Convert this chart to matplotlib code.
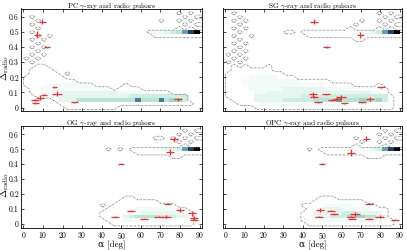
import numpy as np
import matplotlib
matplotlib.use("Agg")
import matplotlib.pyplot as plt
from matplotlib.colors import ListedColormap, BoundaryNorm

plt.rcParams["font.family"] = "serif"
plt.rcParams["font.serif"] = ["cmr10", "DejaVu Serif"]
plt.rcParams["mathtext.fontset"] = "cm"
plt.rcParams["axes.formatter.use_mathtext"] = True

# --- grid: 30 alpha bins (3 deg), 26 Delta rows (0.025) ---
# blocks: (col_from, col_to, row_from, row_to) inside the dash-dot contour
# dots: single cells inside the contour, heat: row -> (first col, intensities)
pc_blocks = [(0, 0, 6, 8), (1, 1, 4, 10), (2, 3, 3, 11), (4, 4, 3, 10), (5, 5, 2, 9),
             (6, 6, 1, 8), (7, 8, 0, 7), (9, 11, 0, 6), (12, 14, 0, 5), (15, 15, 0, 4),
             (16, 16, 1, 5), (17, 17, 1, 6), (18, 19, 1, 5), (20, 24, 1, 4), (25, 26, 1, 3),
             (27, 27, 1, 2), (28, 28, 1, 1), (21, 21, 20, 20), (22, 29, 19, 20)]
pc_dots = [(7, 9), (1, 24), (2, 23), (1, 22), (2, 21), (1, 20), (2, 19), (4, 19), (1, 18),
           (3, 18), (2, 17), (1, 16), (3, 16), (2, 15), (1, 14), (3, 14), (0, 13), (2, 13),
           (1, 12), (26, 21), (28, 21), (27, 22), (29, 22), (23, 23), (26, 23), (28, 23),
           (27, 24), (29, 24), (26, 25), (28, 25)]
pc_heat = {20: (21, "111234689"),
           6: (4, "1111111"),
           5: (3, "11111111111"),
           4: (3, "111" "2222222222" "11111"),
           3: (4, "11" "222222222222" "3333333333"),
           2: (6, "222" "4444444444" "7" "444" "7" "4" "55" "3")}

sg_blocks = [(0, 0, 3, 9), (1, 1, 2, 10), (2, 4, 1, 10), (5, 6, 0, 10), (7, 7, 0, 11),
             (8, 9, 0, 9), (10, 11, 0, 8), (12, 17, 0, 7), (18, 21, 0, 6), (22, 25, 0, 5),
             (26, 26, 0, 6), (27, 27, 0, 5), (28, 28, 0, 3), (10, 11, 20, 20),
             (13, 13, 20, 20), (14, 21, 19, 20), (22, 23, 18, 20), (24, 29, 19, 20),
             (21, 21, 21, 21)]
sg_dots = [(1, 25), (2, 24), (1, 23), (3, 23), (2, 22), (1, 21), (3, 21), (2, 20), (1, 19),
           (4, 19), (2, 18), (1, 17), (3, 17), (2, 16), (1, 15), (3, 15), (0, 14), (2, 14),
           (1, 13), (3, 13), (0, 12), (2, 12), (1, 11), (3, 11), (22, 22), (23, 23),
           (26, 21), (28, 21), (27, 22), (29, 22), (26, 23), (28, 23), (27, 24), (29, 24),
           (26, 25), (28, 25)]
sg_heat = {20: (22, "11123689"),
           8: (4, "11111"),
           7: (3, "1111111111"),
           6: (3, "11111111111111"),
           5: (4, "111111" "2222222" "111111"),
           4: (5, "11" "222222222222222222" "11"),
           3: (5, "22222222" "333333333333333"),
           2: (5, "22222" "33333" "4444" "6" "444" "55" "4" "5" "3"),
           1: (6, "111111111111111")}

og_blocks = [(13, 13, 2, 3), (14, 14, 1, 4), (15, 15, 0, 5), (16, 16, 0, 6), (17, 18, 0, 7),
             (19, 22, 0, 6), (23, 25, 0, 5), (26, 27, 0, 4), (28, 28, 0, 3),
             (18, 18, 20, 20), (19, 24, 19, 20), (25, 26, 18, 20), (27, 29, 19, 20),
             (22, 23, 23, 23)]
og_dots = [(13, 5), (14, 20), (16, 20), (27, 21), (26, 22), (28, 22), (25, 23), (27, 23),
           (29, 23), (26, 24), (28, 24), (27, 25), (29, 25)]
og_heat = {20: (22, "11223689"),
           4: (19, "11111111"),
           3: (18, "1122222211"),
           2: (17, "23444433322"),
           1: (17, "111111111")}

opc_blocks = [(13, 13, 1, 3), (14, 14, 0, 5), (15, 15, 0, 6), (16, 18, 0, 7), (19, 23, 0, 6),
              (24, 25, 0, 5), (26, 27, 0, 4), (28, 28, 0, 1), (16, 16, 20, 20),
              (17, 23, 19, 20), (24, 26, 18, 20), (27, 29, 19, 20), (22, 22, 21, 21)]
opc_dots = [(13, 5), (14, 20), (23, 22), (22, 23), (27, 21), (26, 22), (28, 22), (27, 23),
            (29, 23), (26, 24), (28, 24), (27, 25), (29, 25)]
opc_heat = {20: (21, "111123689"),
            5: (17, "11111"),
            4: (16, "122211111"),
            3: (15, "222223332222"),
            2: (15, "2223335554422"),
            1: (16, "11111111111")}

# --- observed pulsars: alpha [deg], alpha error, Delta_radio, Delta error ---
pc_alpha = [9.7, 7.2, 12.0, 15.9, 17.1, 8.5, 10.7, 5.8, 6.0, 26.1, 78.9]
pc_alpha_err = [1.9, 2.0, 1.7, 1.5, 2.5, 2.0, 1.5, 2.0, 1.8, 2.0, 2.0]
pc_delta = [0.569, 0.482, 0.399, 0.133, 0.092, 0.065, 0.085, 0.050, 0.029, 0.035, 0.055]
pc_delta_err = [0.017, 0.022, 0.004, 0.004, 0.015, 0.015, 0.004, 0.004, 0.004, 0.004, 0.010]

sg_alpha = [45.9, 69.7, 52.3, 80.5, 45.3, 45.9, 51.8, 47.9, 54.9, 57.8, 59.8, 61.5, 70.6, 74.5]
sg_alpha_err = [2.0, 2.0, 1.7, 2.0, 2.0, 2.0, 2.0, 2.0, 2.0, 2.0, 2.5, 2.0, 2.0, 2.0]
sg_delta = [0.569, 0.480, 0.401, 0.135, 0.087, 0.070, 0.087, 0.035, 0.050, 0.055, 0.070,
            0.029, 0.035, 0.055]
sg_delta_err = [0.017, 0.022, 0.004, 0.004, 0.015, 0.004, 0.004, 0.004, 0.004, 0.004, 0.015,
                0.004, 0.004, 0.012]

og_alpha = [76.7, 75.0, 49.8, 73.6, 55.1, 80.1, 86.2, 47.0, 69.5, 72.8, 61.4, 87.3, 87.0]
og_alpha_err = [2.0, 2.0, 1.7, 2.0, 2.0, 2.0, 2.0, 2.0, 3.0, 2.5, 2.0, 2.0, 2.0]
og_delta = [0.567, 0.482, 0.403, 0.137, 0.089, 0.095, 0.072, 0.050, 0.050, 0.050, 0.035,
            0.040, 0.030]
og_delta_err = [0.017, 0.022, 0.004, 0.004, 0.004, 0.015, 0.015, 0.004, 0.004, 0.012, 0.004,
                0.012, 0.004]

opc_alpha = [72.8, 64.8, 49.9, 74.0, 48.8, 54.7, 55.9, 66.8, 48.4, 64.9, 65.4, 74.3, 79.6, 87.6]
opc_alpha_err = [2.0, 2.0, 1.7, 2.0, 2.0, 2.0, 2.0, 2.5, 2.0, 2.0, 2.0, 2.0, 2.5, 2.0]
opc_delta = [0.570, 0.478, 0.403, 0.137, 0.095, 0.089, 0.067, 0.067, 0.050, 0.050, 0.035,
             0.035, 0.050, 0.028]
opc_delta_err = [0.017, 0.022, 0.004, 0.004, 0.015, 0.004, 0.004, 0.015, 0.004, 0.004, 0.004,
                 0.004, 0.012, 0.004]

titles = ["PC", "SG", "OG", "OPC"]
x_ticks = [0, 10, 20, 30, 40, 50, 60, 70, 80, 90]
y_ticks = [0, 0.1, 0.2, 0.3, 0.4, 0.5, 0.6]
y_tick_labels = ["0", "0.1", "0.2", "0.3", "0.4", "0.5", "0.6"]

heat_colors = ["#f3fbf8", "#e4f6ef", "#cfeee3", "#b6e5d5", "#9cd9c5",
               "#64a0b0", "#4a7a96", "#283c66", "#000000"]
cmap = ListedColormap(heat_colors)
norm = BoundaryNorm(np.arange(0.5, 10.5, 1.0), cmap.N)

n_col, n_row = 30, 26
x_edges = 3.0 * np.arange(n_col + 1)
y_edges = 0.025 * np.arange(n_row + 1) - 0.0125


def build(blocks, dots, heat):
    grid = np.zeros((n_row, n_col))
    mask = np.zeros((n_row, n_col))
    for ca, cb, ra, rb in blocks:
        mask[ra:rb + 1, ca:cb + 1] = 1
    for c, r in dots:
        mask[r, c] = 1
    for r, (c0, vals) in heat.items():
        for i, ch in enumerate(vals):
            grid[r, c0 + i] = int(ch)
    mask[grid > 0] = 1
    return grid, mask


panels = [
    (pc_blocks, pc_dots, pc_heat, pc_alpha, pc_alpha_err, pc_delta, pc_delta_err),
    (sg_blocks, sg_dots, sg_heat, sg_alpha, sg_alpha_err, sg_delta, sg_delta_err),
    (og_blocks, og_dots, og_heat, og_alpha, og_alpha_err, og_delta, og_delta_err),
    (opc_blocks, opc_dots, opc_heat, opc_alpha, opc_alpha_err, opc_delta, opc_delta_err),
]
positions = [[0.0516, 0.556, 0.4447, 0.41], [0.548, 0.556, 0.4398, 0.41],
             [0.0516, 0.09, 0.4447, 0.406], [0.548, 0.09, 0.4398, 0.406]]

fig = plt.figure(figsize=(4.07, 2.5), dpi=100)

for k, (blocks, dots, heat, a, ae, d, de) in enumerate(panels):
    ax = fig.add_axes(positions[k])
    grid, mask = build(blocks, dots, heat)
    ax.pcolormesh(x_edges, y_edges, np.ma.masked_where(grid == 0, grid),
                  cmap=cmap, norm=norm, shading="flat")

    # pad so the contour closes past the frame on the right and at the bottom
    m = np.hstack([mask, mask[:, -1:]])
    m = np.pad(m, 1)
    xs = 1.5 + 3.0 * np.arange(-1, n_col + 2)
    ys = 0.025 * np.arange(-1, n_row + 1)
    ax.contour(xs, ys, m, levels=[0.5], colors="#707070", linewidths=0.5,
               linestyles=[(0, (2.5, 1.2, 0.8, 1.2))])

    ax.errorbar(a, d, xerr=ae, yerr=de, fmt="none", ecolor="#ff2a2a",
                elinewidth=0.9, capsize=0)

    ax.set_xlim(-1.2, 91.2)
    ax.set_ylim(-0.023, 0.656)
    ax.set_xticks(x_ticks)
    ax.set_yticks(y_ticks)
    ax.tick_params(direction="in", top=True, right=True, length=2.5, width=0.5,
                   labelsize=5.5, pad=1.5)
    for s in ax.spines.values():
        s.set_linewidth(0.6)
    ax.text(0.5, 1.004, titles[k] + r" $\gamma$-ray and radio pulsars",
            transform=ax.transAxes, ha="center", va="baseline", fontsize=5.3)

    if k % 2 == 0:
        ax.set_yticklabels(y_tick_labels)
        ax.set_ylabel(r"$\Delta_{\rm radio}$", fontsize=7)
        ax.yaxis.set_label_coords(-0.058, 0.42)
    else:
        ax.set_yticklabels([])
    if k >= 2:
        ax.set_xlabel("α [deg]", fontsize=6.5, labelpad=0.3,
                      family=["cmr10", "DejaVu Serif"])
    else:
        ax.set_xticklabels([])

fig.savefig("out.png", dpi=100)
